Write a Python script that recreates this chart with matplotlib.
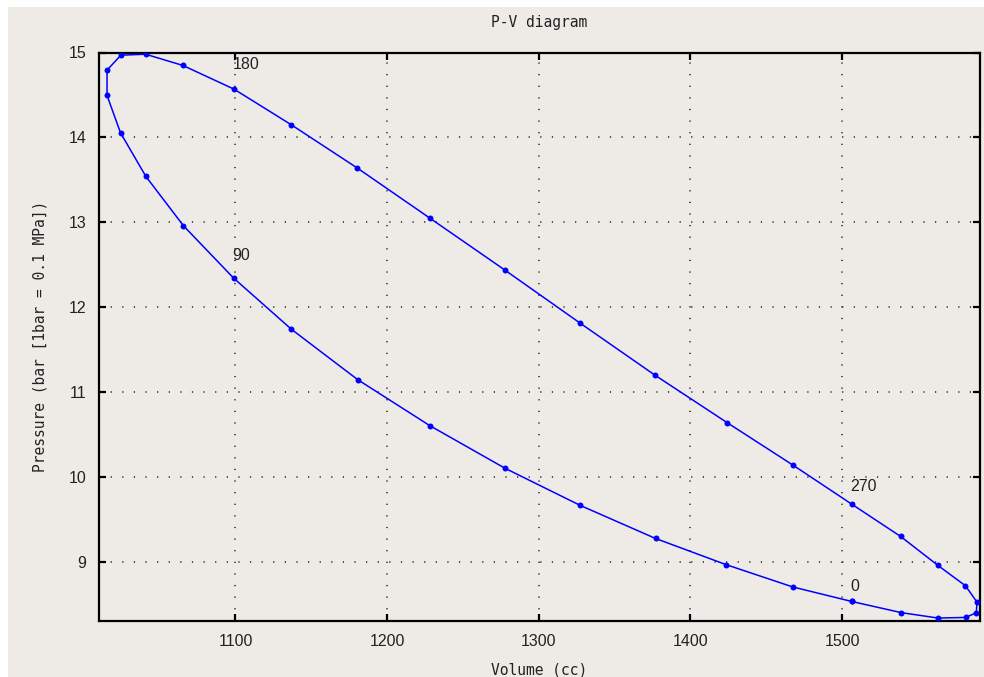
# P-V diagram (crank angle every 10 deg)
import matplotlib
matplotlib.use('Agg')
import matplotlib.pyplot as plt
from matplotlib.patches import Rectangle

# crank angle, deg
angle = list(range(0, 361, 10))

# volume, cc
volume = [1506.4, 1467.7, 1423.8, 1377.0, 1327.5, 1277.6, 1228.1, 1180.6, 1136.9, 1098.7,
          1065.7, 1040.9, 1024.2, 1015.3, 1015.3, 1024.4, 1040.7, 1065.4, 1099.1,
          1136.9, 1180.4, 1228.1, 1277.6, 1327.4, 1376.7, 1424.2, 1467.7, 1506.4,
          1538.7, 1563.3, 1581.4, 1589.0, 1588.6, 1581.6, 1563.3, 1539.2, 1506.4]

# pressure, bar
pressure = [8.536, 8.706, 8.968, 9.278, 9.666, 10.106, 10.607, 11.148, 11.741, 12.345,
            12.960, 13.541, 14.054, 14.494, 14.792, 14.968, 14.980, 14.847, 14.568,
            14.148, 13.639, 13.051, 12.439, 11.812, 11.200, 10.642, 10.141, 9.682,
            9.301, 8.960, 8.721, 8.529, 8.404, 8.348, 8.341, 8.404, 8.536]

# angle labels and where they sit
label_text = ['0', '90', '180', '270']
label_v = [1505.7, 1098.2, 1098.2, 1505.7]
label_p = [8.71, 12.61, 14.86, 9.89]

bg = '#eeebe7'
mono = 'DejaVu Sans Mono'

fig = plt.figure(figsize=(9.84, 6.77), dpi=100, facecolor='white')
# grey panel with thin white strip at top and left
fig.patches.append(Rectangle((8 / 984, 0), 1, 1 - 7 / 677, transform=fig.transFigure,
                             facecolor=bg, edgecolor='none', zorder=-10))

ax = fig.add_axes([99 / 984, 1 - 621 / 677, 881 / 984, (621 - 52.5) / 677])
ax.set_facecolor(bg)

ax.plot(volume, pressure, color='#0000ff', lw=1.1, marker='o', ms=4.3,
        markeredgewidth=0, zorder=3)

for t, v, p in zip(label_text, label_v, label_p):
    ax.text(v, p, t, ha='left', va='center', fontsize=11.5, family='Liberation Sans',
            color='#222222')

ax.set_xlim(1010, 1591)
ax.set_ylim(8.306, 15)
ax.set_xticks([1100, 1200, 1300, 1400, 1500])
ax.set_yticks([9, 10, 11, 12, 13, 14, 15])

ax.grid(True, color='#222222', linestyle=(0, (0.8, 6.8)), lw=1.1)
ax.tick_params(direction='in', length=5, width=1.6, top=True, right=True,
               labelsize=11.5, pad=9, colors='black')
for lab in ax.get_xticklabels() + ax.get_yticklabels():
    lab.set_family('Liberation Sans')
    lab.set_color('#222222')
for s in ax.spines.values():
    s.set_linewidth(1.6)

ax.set_title('P-V diagram', family=mono, fontsize=10.5, pad=18, color='#222222')
ax.set_xlabel('Volume (cc)', family=mono, fontsize=10.5, labelpad=10, color='#222222')
ax.set_ylabel('Pressure (bar [1bar = 0.1 MPa])', family=mono, fontsize=10.5,
              labelpad=15, color='#222222')

fig.savefig('out.png', dpi=100, facecolor=fig.get_facecolor())
